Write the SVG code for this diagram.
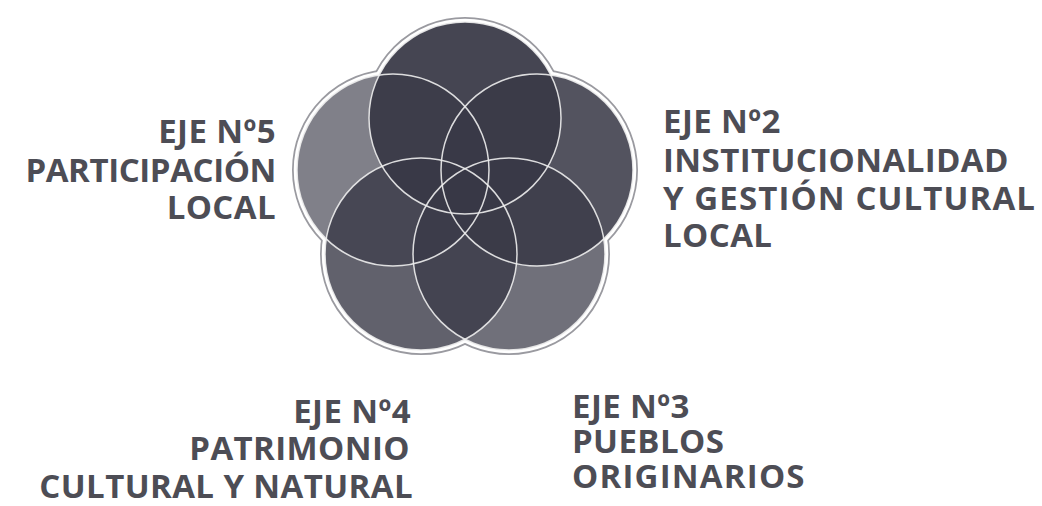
<svg xmlns="http://www.w3.org/2000/svg" width="1042" height="506" viewBox="0 0 1042 506">
<style>
.lbl{font-family:"Open Sans","DejaVu Sans",sans-serif;font-weight:bold;font-size:33px;letter-spacing:0.4px;fill:#4d4d55}
.r{text-anchor:end}
.shadow{fill:none;stroke:#9a9aa0;stroke-width:10}
.halo{fill:#ffffff;stroke:#ffffff;stroke-width:6.5}
.fill{fill:#393947}
.edge{fill:none;stroke:#eeeeee;stroke-width:1.5;stroke-opacity:0.9}
</style>
<rect width="1042" height="506" fill="#ffffff"/>
<defs>
<circle id="c1" cx="465" cy="118" r="96"/>
<circle id="c2" cx="537" cy="170" r="96"/>
<circle id="c3" cx="509" cy="254" r="96"/>
<circle id="c4" cx="421" cy="254" r="96"/>
<circle id="c5" cx="393" cy="170" r="96"/>
</defs>
<g id="outline">
<use href="#c1" class="shadow"/><use href="#c2" class="shadow"/><use href="#c3" class="shadow"/><use href="#c4" class="shadow"/><use href="#c5" class="shadow"/>
<use href="#c1" class="halo"/><use href="#c2" class="halo"/><use href="#c3" class="halo"/><use href="#c4" class="halo"/><use href="#c5" class="halo"/>
</g>
<g id="eje1"><use href="#c1" class="fill" fill-opacity="0.94"/></g>
<g id="eje2"><use href="#c2" class="fill" fill-opacity="0.87"/></g>
<g id="eje3"><use href="#c3" class="fill" fill-opacity="0.72"/></g>
<g id="eje4"><use href="#c4" class="fill" fill-opacity="0.80"/></g>
<g id="eje5"><use href="#c5" class="fill" fill-opacity="0.64"/></g>
<g id="edges">
<use href="#c1" class="edge"/><use href="#c2" class="edge"/><use href="#c3" class="edge"/><use href="#c4" class="edge"/><use href="#c5" class="edge"/>
</g>
<g id="label5">
<text class="lbl r" x="276" y="143">EJE Nº5</text>
<text class="lbl r" x="276" y="182" style="letter-spacing:-0.4px">PARTICIPACIÓN</text>
<text class="lbl r" x="276" y="219">LOCAL</text>
</g>
<g id="label2">
<text class="lbl" x="663" y="133">EJE Nº2</text>
<text class="lbl" x="663" y="172">INSTITUCIONALIDAD</text>
<text class="lbl" x="663" y="210" style="letter-spacing:1.1px">Y GESTIÓN CULTURAL</text>
<text class="lbl" x="663" y="247">LOCAL</text>
</g>
<g id="label4">
<text class="lbl r" x="411" y="423">EJE Nº4</text>
<text class="lbl r" x="410" y="460">PATRIMONIO</text>
<text class="lbl r" x="413" y="498">CULTURAL Y NATURAL</text>
</g>
<g id="label3">
<text class="lbl" x="572" y="418">EJE Nº3</text>
<text class="lbl" x="572" y="453">PUEBLOS</text>
<text class="lbl" x="572" y="488" style="letter-spacing:1.2px">ORIGINARIOS</text>
</g>
</svg>
